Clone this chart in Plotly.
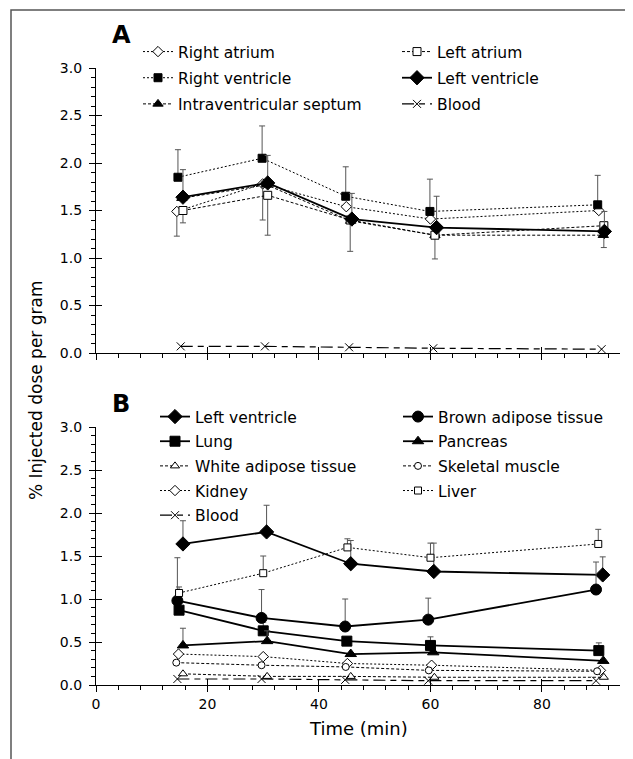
import plotly.graph_objects as go

# ---------------- Data ----------------
# Panel A: heart regions
ra_x = [14.5, 29.9, 44.9, 60.0, 90.2]
ra_y = [1.49, 1.78, 1.54, 1.41, 1.50]
ra_err_dn = [0.26, 0.38, 0.0, 0.0, 0.0]

rv_x = [14.7, 29.8, 44.8, 59.9, 90.0]
rv_y = [1.85, 2.05, 1.65, 1.49, 1.56]
rv_err_up = [0.29, 0.34, 0.31, 0.34, 0.31]

sep_x = [15.4, 30.6, 45.7, 60.8, 91.0]
sep_y = [1.63, 1.77, 1.39, 1.24, 1.24]

la_x = [15.6, 30.8, 45.6, 60.8, 91.1]
la_y = [1.50, 1.66, 1.40, 1.24, 1.34]
la_err_dn = [0.13, 0.42, 0.33, 0.25, 0.23]

lv_x = [15.6, 30.8, 45.9, 61.1, 91.2]
lv_y = [1.64, 1.79, 1.41, 1.32, 1.28]
lv_err_up = [0.29, 0.29, 0.27, 0.33, 0.21]

blood_a_x = [15.2, 30.3, 45.4, 60.5, 90.7]
blood_a_y = [0.07, 0.07, 0.06, 0.05, 0.04]

# Panel B: organs
lvb_x = [15.6, 30.6, 45.7, 60.6, 90.9]
lvb_y = [1.64, 1.78, 1.41, 1.32, 1.28]
lvb_err_up = [0.27, 0.31, 0.27, 0.33, 0.21]

liver_x = [14.9, 30.0, 45.1, 60.0, 90.1]
liver_y = [1.07, 1.30, 1.60, 1.48, 1.64]
liver_err_up = [0.07, 0.20, 0.10, 0.17, 0.17]

bat_x = [14.6, 29.7, 44.7, 59.6, 89.7]
bat_y = [0.98, 0.78, 0.68, 0.76, 1.11]
bat_err_up = [0.50, 0.33, 0.32, 0.25, 0.32]

lung_x = [14.9, 30.0, 45.0, 60.0, 90.2]
lung_y = [0.87, 0.63, 0.51, 0.46, 0.40]
lung_err_up = [0.14, 0.10, 0.0, 0.10, 0.09]

panc_x = [15.6, 30.7, 45.7, 60.5, 91.0]
panc_y = [0.46, 0.51, 0.36, 0.38, 0.28]
panc_err_up = [0.20, 0.12, 0.0, 0.0, 0.0]

kid_x = [14.8, 30.0, 45.1, 60.2, 90.5]
kid_y = [0.36, 0.33, 0.25, 0.23, 0.17]

musc_x = [14.4, 29.7, 44.8, 59.7, 89.9]
musc_y = [0.26, 0.23, 0.21, 0.17, 0.16]

wat_x = [15.6, 30.7, 45.7, 60.7, 91.1]
wat_y = [0.13, 0.10, 0.10, 0.09, 0.09]

blood_b_x = [14.6, 29.7, 44.7, 59.6, 89.7]
blood_b_y = [0.07, 0.07, 0.06, 0.05, 0.05]

y_ticks = [0.0, 0.5, 1.0, 1.5, 2.0, 2.5, 3.0]
x_ticks = [0, 20, 40, 60, 80]

# ---------------- Figure ----------------
W, H = 633, 759
OFF = 8  # default page body margin
FONT = "DejaVu Sans, Verdana, sans-serif"
ERRC = "#555555"

def px_x(p):
    return (p - OFF) / W

def px_y(p):
    return 1 - (p - OFF) / H

fig = go.Figure()

def err(up=None, dn=None):
    n = 5
    up = up if up is not None else [0] * n
    dn = dn if dn is not None else [0] * n
    return dict(type="data", symmetric=False, array=up, arrayminus=dn,
                color=ERRC, thickness=1, width=3)

def add(name, x, y, xa, ya, legend, symbol, size, dash, width=1.0,
        filled=True, up=None, dn=None, group=None):
    mk = dict(symbol=symbol, size=size, color="black" if filled else "white",
              line=dict(color="black", width=1))
    fig.add_trace(go.Scatter(
        x=x, y=y, name=name, mode="lines+markers", xaxis=xa, yaxis=ya,
        legend=legend, legendgroup=group or name,
        line=dict(color="black", width=width, dash=dash),
        marker=mk,
        error_y=err(up, dn) if (up or dn) else None,
        cliponaxis=False,
    ))

DOT = "2px,2px"
DASH = "3px,2px"
BLOOD_DASH = "12px,5px,6px,5px"

# Panel A
add("Right atrium", ra_x, ra_y, "x", "y", "legend", "diamond", 8, DOT, filled=False, dn=ra_err_dn)
add("Right ventricle", rv_x, rv_y, "x", "y", "legend", "square", 8, DOT, up=rv_err_up)
add("Intraventricular septum", sep_x, sep_y, "x", "y", "legend", "triangle-up", 9, DASH)
add("Left atrium", la_x, la_y, "x", "y", "legend2", "square", 8, DASH, filled=False, dn=la_err_dn)
add("Left ventricle", lv_x, lv_y, "x", "y", "legend2", "diamond", 11, "solid", width=1.8, up=lv_err_up)
add("Blood", blood_a_x, blood_a_y, "x", "y", "legend2", "x-thin-open", 8, BLOOD_DASH, width=1.2)

# Panel B
add("Left ventricle", lvb_x, lvb_y, "x2", "y2", "legend3", "diamond", 11, "solid", width=1.8, up=lvb_err_up, group="b1")
add("Lung", lung_x, lung_y, "x2", "y2", "legend3", "square", 10, "solid", width=1.8, up=lung_err_up)
add("White adipose tissue", wat_x, wat_y, "x2", "y2", "legend3", "triangle-up", 8, DASH, filled=False)
add("Kidney", kid_x, kid_y, "x2", "y2", "legend3", "diamond", 8, DOT, filled=False)
add("Blood", blood_b_x, blood_b_y, "x2", "y2", "legend3", "x-thin-open", 8, BLOOD_DASH, width=1.2, group="b2")
add("Brown adipose tissue", bat_x, bat_y, "x2", "y2", "legend4", "circle", 11, "solid", width=1.8, up=bat_err_up)
add("Pancreas", panc_x, panc_y, "x2", "y2", "legend4", "triangle-up", 10, "solid", width=1.8, up=panc_err_up)
add("Skeletal muscle", musc_x, musc_y, "x2", "y2", "legend4", "circle", 7, DASH, filled=False)
add("Liver", liver_x, liver_y, "x2", "y2", "legend4", "square", 7, DOT, filled=False, up=liver_err_up)

# empty helper traces so the overlaid "inside tick" axes get drawn
for xa, ya in (("x3", "y3"), ("x4", "y4")):
    fig.add_trace(go.Scatter(x=[], y=[], xaxis=xa, yaxis=ya, showlegend=False,
                             hoverinfo="skip"))

xdom = [px_x(96), px_x(620)]
ydomA = [px_y(353), px_y(68)]
ydomB = [px_y(685), px_y(427)]
XR = [0, 94]
YR = [0, 3.0]

tickfont = dict(family=FONT, size=14, color="black")

def xaxis(anchor, labels):
    return dict(domain=xdom, anchor=anchor, range=XR, showgrid=False, zeroline=False,
                showline=True, linecolor="black", linewidth=1.2,
                tickmode="array", tickvals=x_ticks, ticktext=[str(t) for t in x_ticks],
                showticklabels=labels, ticks="outside", ticklen=6, tickwidth=1, tickcolor="black",
                minor=dict(ticks="outside", dtick=4, tick0=0, ticklen=4, tickwidth=1, tickcolor="black"),
                tickfont=tickfont, automargin=False)

def yaxis(dom, anchor):
    return dict(domain=dom, anchor=anchor, range=YR, showgrid=False, zeroline=False,
                showline=True, linecolor="black", linewidth=1.2,
                tickmode="array", tickvals=y_ticks, ticktext=[f"{t:.1f}" for t in y_ticks],
                ticks="outside", ticklen=6, tickwidth=1, tickcolor="black",
                ticklabelstandoff=4,
                minor=dict(ticks="outside", dtick=0.1, tick0=0, ticklen=4, tickwidth=1, tickcolor="black"),
                tickfont=tickfont, automargin=False)

def inner(base, anchor, vals, dom, rng):
    return dict(overlaying=base, anchor=anchor, domain=dom, range=rng, showgrid=False,
                zeroline=False, showline=False, showticklabels=False, tickmode="array",
                tickvals=vals, ticks="inside", ticklen=6, tickwidth=1, tickcolor="black",
                fixedrange=True)

legfont = dict(family=FONT, size=15.5, color="black")

def leg(xp, yp, gap):
    return dict(x=px_x(xp), y=px_y(yp), xanchor="left", yanchor="top",
                font=legfont, bgcolor="rgba(0,0,0,0)", borderwidth=0,
                tracegroupgap=gap, itemwidth=30)

fig.update_layout(
    width=W, height=H,
    margin=dict(l=0, r=0, t=0, b=0),
    paper_bgcolor="white", plot_bgcolor="white",
    font=dict(family=FONT, color="black"),
    xaxis=xaxis("y", False),
    yaxis=yaxis(ydomA, "x"),
    xaxis2=xaxis("y2", True),
    yaxis2=yaxis(ydomB, "x2"),
    xaxis3=inner("x", "y3", x_ticks, xdom, XR),
    yaxis3=inner("y", "x3", y_ticks, ydomA, YR),
    xaxis4=inner("x2", "y4", x_ticks, xdom, XR),
    yaxis4=inner("y2", "x4", y_ticks, ydomB, YR),
    legend=leg(138, 35, 3),
    legend2=leg(397, 35, 3),
    legend3=leg(155, 400, 1.5),
    legend4=leg(398, 400, 1.5),
    showlegend=True,
)

def ann(text, xp, yp, size, angle=0):
    return dict(text=text, x=px_x(xp), y=px_y(yp), xref="paper", yref="paper",
                xanchor="center", yanchor="middle", showarrow=False, textangle=angle,
                font=dict(family=FONT, size=size, color="black"))

fig.update_layout(annotations=[
    ann("<b>A</b>", 121, 35, 24),
    ann("<b>B</b>", 121, 404, 24),
    ann("% Injected dose per gram", 36, 390, 17, angle=-90),
    ann("Time (min)", 358, 728, 18),
])

fig.add_shape(type="rect", xref="paper", yref="paper",
              x0=px_x(11), x1=px_x(660), y0=px_y(10), y1=px_y(790),
              line=dict(color="#555555", width=1.5), fillcolor="rgba(0,0,0,0)", layer="below")

fig.write_html("out.html")
